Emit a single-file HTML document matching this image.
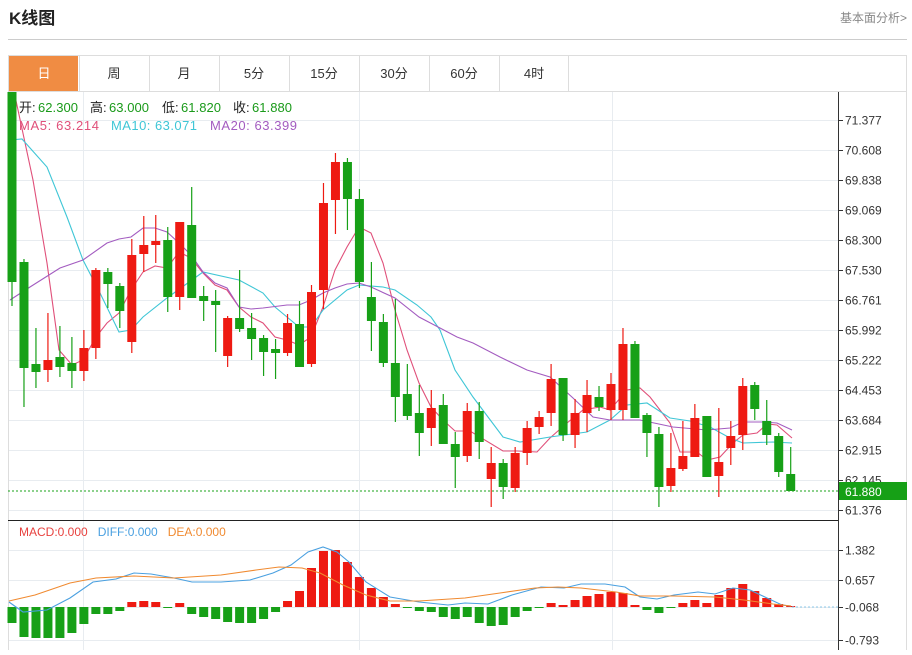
<!DOCTYPE html>
<html><head><meta charset="utf-8"><style>
body{margin:0;background:#fff;width:912px;height:650px;overflow:hidden;font-family:"Liberation Sans","Noto Sans CJK SC",sans-serif;}
svg text{font-family:"Liberation Sans","Noto Sans CJK SC",sans-serif;}
</style></head><body>
<svg id="s" width="912" height="650" xmlns="http://www.w3.org/2000/svg">
<text x="9" y="24" font-size="17" font-weight="bold" fill="#222">K线图</text>
<text x="907" y="22" font-size="12" fill="#888" text-anchor="end">基本面分析&gt;</text>
<line x1="8" y1="39.5" x2="907" y2="39.5" stroke="#ccc"/>
<rect x="8.5" y="55.5" width="898" height="36" fill="#fff" stroke="#ddd"/>
<rect x="9" y="56" width="69" height="35" fill="#f08c43"/>
<g id="tabs" font-size="13" fill="#333" text-anchor="middle"></g>
<rect x="8.5" y="91.5" width="898" height="560" fill="none" stroke="#ddd"/>
<g id="grid"></g>
<g id="ma"></g>
<g id="c"></g>
<g id="m"></g>
<line x1="838.5" y1="92" x2="838.5" y2="650" stroke="#333"/>
<line x1="8" y1="520.5" x2="838" y2="520.5" stroke="#222"/>
<line x1="8" y1="491" x2="838" y2="491" stroke="#1aa31a" stroke-dasharray="2,2"/>
<rect x="839" y="482" width="68" height="18" fill="#16a016"/>
<text x="845" y="496" font-size="12" fill="#fff">61.880</text>
<g font-size="13">
<text x="19" y="112" fill="#222">开:</text><text x="38" y="112" fill="#1a9a1a" textLength="40">62.300</text>
<text x="90" y="112" fill="#222">高:</text><text x="109" y="112" fill="#1a9a1a" textLength="40">63.000</text>
<text x="162" y="112" fill="#222">低:</text><text x="181" y="112" fill="#1a9a1a" textLength="40">61.820</text>
<text x="233" y="112" fill="#222">收:</text><text x="252" y="112" fill="#1a9a1a" textLength="40">61.880</text>
<text x="19" y="130" fill="#e0507a" textLength="80">MA5: 63.214</text>
<text x="111" y="130" fill="#3fc6d6" textLength="86">MA10: 63.071</text>
<text x="210" y="130" fill="#a35cc0" textLength="87">MA20: 63.399</text>
</g>
<text x="19" y="536" font-size="12"><tspan fill="#e8423f">MACD:0.000</tspan><tspan fill="#4aa0e0" dx="10">DIFF:0.000</tspan><tspan fill="#f08a30" dx="10">DEA:0.000</tspan></text>
</svg>
<script>
var NS="http://www.w3.org/2000/svg";
function el(p,t,a){var e=document.createElementNS(NS,t);for(var k in a)e.setAttribute(k,a[k]);document.getElementById(p).appendChild(e);return e;}
var tabs=["日","周","月","5分","15分","30分","60分","4时"];
tabs.forEach(function(t,i){var x=9+70*i;var e=el("tabs","text",{x:x+35,y:78});e.textContent=t;if(i==0)e.setAttribute("fill","#fff");
 if(i>0)el("tabs","line",{x1:x+.5,y1:56,x2:x+.5,y2:91,stroke:"#ddd"});});
el("tabs","line",{x1:568.5,y1:56,x2:568.5,y2:91,stroke:"#ddd"});
var labs=["71.377","70.608","69.838","69.069","68.300","67.530","66.761","65.992","65.222","64.453","63.684","62.915","62.145","61.376"];
labs.forEach(function(l,i){var y=120+30*i+.5;el("grid","line",{x1:9,y1:y,x2:838,y2:y,stroke:"#e8ecf0"});el("grid","line",{x1:838,y1:y,x2:843,y2:y,stroke:"#333"});
 var t=el("grid","text",{x:845,y:y+4,"font-size":12,fill:"#333"});t.textContent=l;});
[["1.382",550],["0.657",580],["-0.068",607],["-0.793",640]].forEach(function(a){var y=a[1]+.5;el("grid","line",{x1:9,y1:y,x2:838,y2:y,stroke:"#e8ecf0"});el("grid","line",{x1:838,y1:y,x2:843,y2:y,stroke:"#333"});var t=el("grid","text",{x:845,y:y+4,"font-size":12,fill:"#333"});t.textContent=a[0];});
[83,359,612].forEach(function(x){el("grid","line",{x1:x+.5,y1:92,x2:x+.5,y2:650,stroke:"#e8ecf0"});});
var C=[["g",92,282,92,306],["g",262,368,259,407],["g",364,372,328,388],["r",360,370,313,382],["g",357,367,326,377],["g",363,371,337,388],["r",348,371,330,381],["r",270,348,268,359],["g",272,284,268,308],["g",286,311,283,328],
["r",255,342,239,353],["r",245,254,216,272],["r",241,245,215,263],["g",240,297,227,312],["r",222,297,222,310],["g",225,298,187,298],["g",296,301,286,321],["g",301,305,290,352],["r",318,356,316,367],["g",318,329,270,332],
["g",328,339,313,360],["g",338,352,335,376],["g",349,353,339,379],["r",323,353,314,356],["g",324,367,301,367],["r",292,364,285,367],["r",203,290,183,309],["r",162,200,153,234],["g",162,199,158,230],["g",199,282,189,288],
["g",297,321,262,351],["g",322,363,314,367],["g",363,397,299,422],["g",394,416,364,420],["g",413,433,385,456],["r",408,428,390,446],["g",405,444,394,444],["g",444,457,432,488],["r",411,456,403,462],["g",411,442,402,459],
["r",463,479,447,507],["g",463,487,459,499],["r",453,488,447,492],["r",428,453,421,465],["r",417,427,411,434],["r",379,413,364,426],["g",378,435,378,441],["r",413,435,399,448],["r",395,413,380,432],["g",397,407,386,411],
["r",384,410,373,420],["r",344,410,328,420],["g",344,418,341,418],["g",415,433,413,457],["g",434,487,427,507],["r",468,486,433,492],["r",456,469,421,471],["r",418,457,404,457],["g",416,477,416,477],["r",462,476,408,497],
["r",436,448,421,465],["r",386,435,378,450],["g",385,409,382,420],["g",421,435,400,445],["g",436,472,433,477],["g",474,491,447,491]];
C.forEach(function(c,i){var x=12+11.98*i;var col=c[0]=="r"?"#ee1a12":"#17a017";
 el("c","line",{x1:x,y1:c[3],x2:x,y2:c[4],stroke:col,"stroke-width":1.2});
 el("c","rect",{x:x-4.5,y:c[1],width:9,height:Math.max(1,c[2]-c[1]),fill:col});});
function pl(g,pts,col){el(g,"polyline",{points:pts,fill:"none",stroke:col,"stroke-width":1.1});}
pl("ma","15,96 33,180 47,263 59,350 72,365 83,360 96,337 107,323 119,313 131,290 143,272 155,266 167,268 179,252 191,258 203,273 215,285 227,290 239,307 251,317 263,323 275,337 287,340 299,345 311,337 323,307 335,270 347,247 359,227 371,233 383,263 395,310 407,350 419,383 431,407 443,420 455,431 470,431 503,451 517,451 537,452 550,438 567,423 583,410 600,407 610,410 627,390 640,388 650,397 670,423 680,452 697,452 707,460 720,457 733,443 743,435 757,433 767,424 777,425 792,438","#e0507a");
pl("ma","10,140 22,139 47,167 67,217 83,260 100,293 119,332 131,330 143,317 167,298 203,272 239,280 263,293 275,307 299,327 311,327 323,310 347,290 359,285 383,287 395,290 417,305 431,317 440,330 455,370 473,397 503,437 520,442 550,437 587,432 610,420 627,405 647,403 670,418 690,421 710,427 730,438 743,443 773,442 792,443","#3fc6d6");
pl("ma","10,300 30,287 60,268 83,260 107,243 119,239 131,237 143,228 155,228 167,232 179,243 191,255 203,272 215,283 227,288 239,307 251,309 263,308 287,305 299,305 311,300 323,293 335,288 347,284 359,283 371,287 395,298 419,317 440,328 457,337 473,343 500,357 527,370 550,377 573,398 593,417 610,420 640,420 673,427 707,430 730,428 743,422 763,422 777,423 792,430","#a35cc0");
var M=[623,637,638,638,638,633,624,614,614,611,602,601,602,607,603,614,617,619,622,623,623,619,612,601,591,568,551,550,562,577,588,597,604,608,611,612,617,619,617,623,626,625,617,611,607,603,605,600,596,594,592,593,605,610,613,607,603,600,603,595,588,584,591,598,604,606];
M.forEach(function(y,i){var x=12+11.98*i;var z=607;var col=y<z?"#ee1a12":"#17a017";var h=Math.abs(y-z);if(h<1)h=1;
 el("m","rect",{x:x-4.5,y:Math.min(y,z),width:9,height:h,fill:col});});
pl("m","9,602 23,612 47,610 70,598 93,582 116,579 134,573 151,574 174,578 192,582 221,582 250,580 273,573 291,565 308,552 323,547 337,552 349,562 366,582 390,597 419,602 448,605 465,603 488,604 512,595 541,587 564,588 581,584 605,584 625,587 640,597 657,599 674,595 698,592 715,594 733,588 750,590 767,598 782,605 791,606","#4aa0e0");
pl("m","9,601 35,595 70,583 96,578 134,576 174,578 221,575 256,570 279,567 302,568 320,573 343,585 366,595 390,601 419,601 465,598 500,593 535,588 558,587 581,588 616,592 640,596 674,596 715,597 744,600 773,604 791,606","#f08a30");
el("m","line",{x1:792,y1:607,x2:838,y2:607,stroke:"#8cc8e8","stroke-dasharray":"2,2"});
</script>
</body></html>
